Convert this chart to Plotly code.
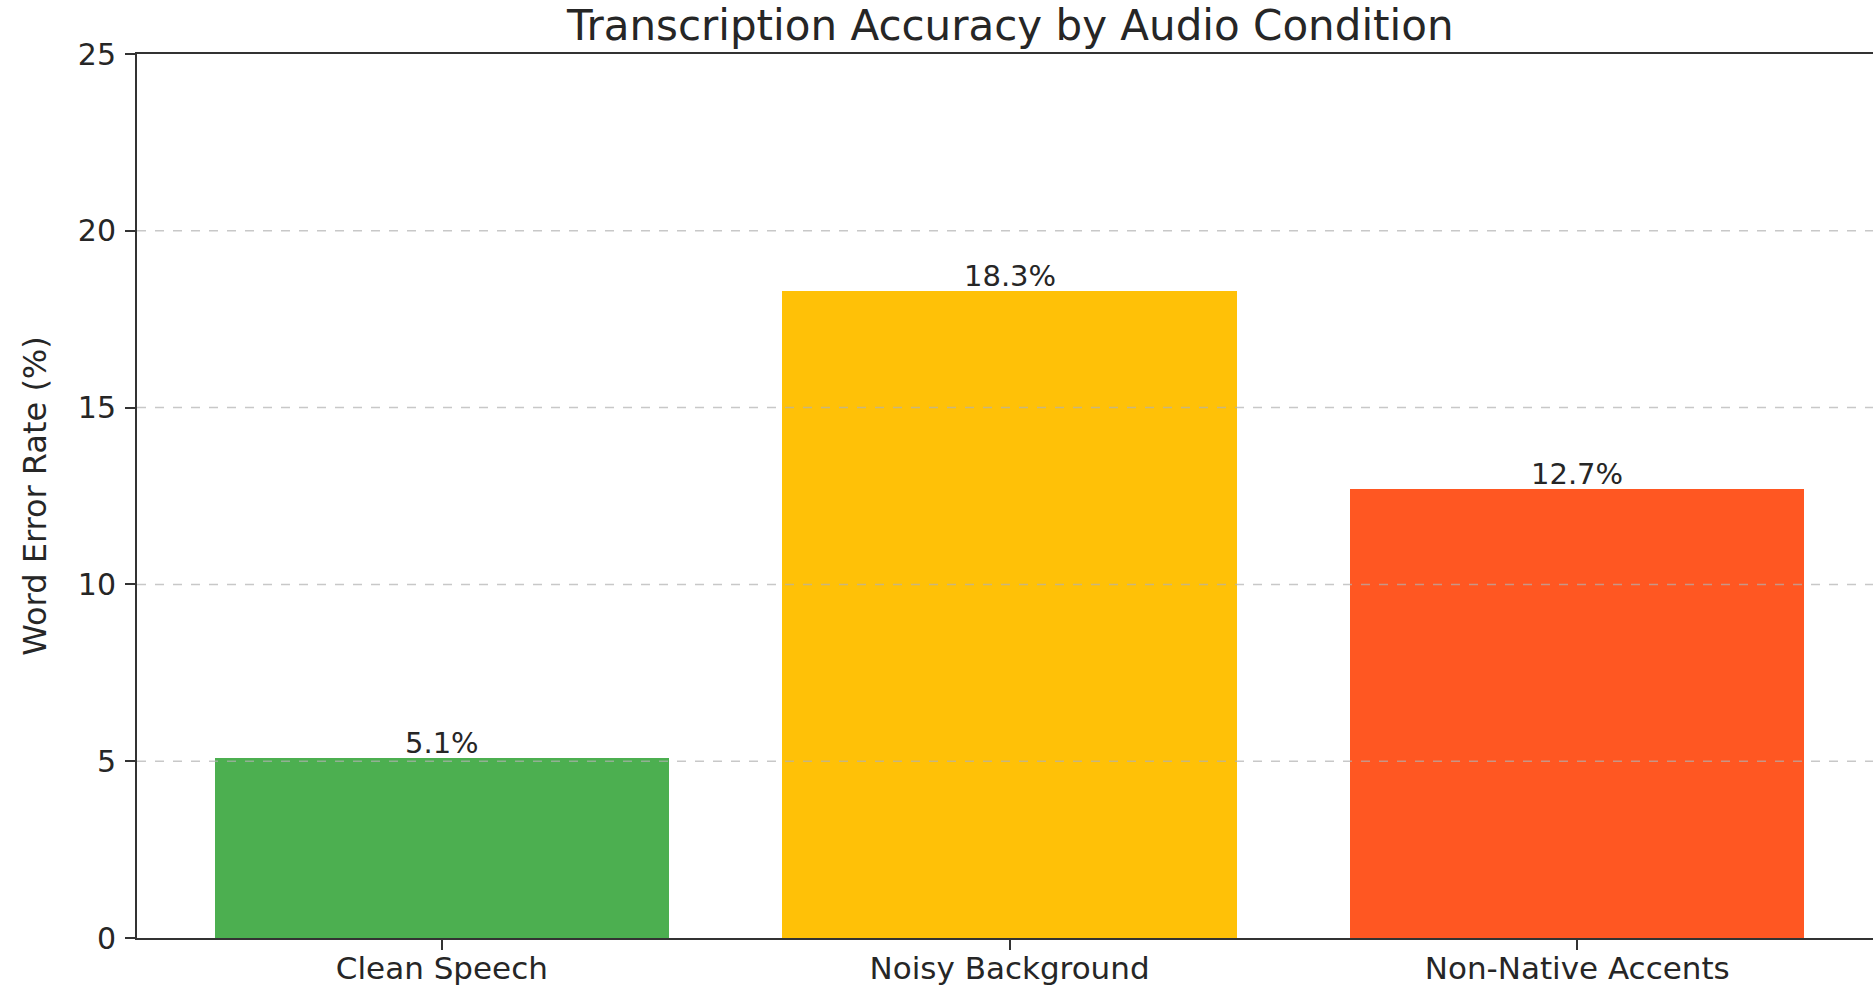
import plotly.graph_objects as go

categories = ["Clean Speech", "Noisy Background", "Non-Native Accents"]
wer_values = [5.1, 18.3, 12.7]
bar_colors = ["#4CAF50", "#FFC107", "#FF5722"]
bar_labels = [f"{v:.1f}%" for v in wer_values]
y_ticks = [0, 5, 10, 15, 20, 25]
grid_values = [5, 10, 15, 20]

FONT = "DejaVu Sans"
TXT = "#262626"

x_pos = list(range(len(categories)))

fig = go.Figure()
fig.add_trace(go.Bar(
    x=x_pos,
    y=wer_values,
    width=0.8,
    marker=dict(color=bar_colors, line=dict(width=0)),
    showlegend=False,
    hoverinfo="skip",
))

for xi, v, lab in zip(x_pos, wer_values, bar_labels):
    fig.add_annotation(x=xi, y=v, xref="x", yref="y", text=lab, showarrow=False,
                       yanchor="bottom", xanchor="center", yshift=-4,
                       font=dict(family=FONT, size=29, color=TXT))

shapes = []
for g in grid_values:
    shapes.append(dict(type="line", xref="paper", x0=0, x1=1, yref="y", y0=g, y1=g,
                       line=dict(color="rgba(176,176,176,0.7)", width=1.5, dash="dash"),
                       layer="above"))

fig.update_layout(
    width=1873, height=986,
    margin=dict(l=137, r=0, t=54, b=48),
    paper_bgcolor="white", plot_bgcolor="white",
    font=dict(family=FONT, color=TXT),
    title=dict(text="Transcription Accuracy by Audio Condition", x=0.503, xanchor="center",
               xref="paper", y=1 - 25 / 986, yanchor="middle", yref="container",
               font=dict(family=FONT, size=42, color=TXT)),
    xaxis=dict(range=[-0.537, 2.521], tickmode="array", tickvals=x_pos,
               ticktext=categories, showgrid=False, zeroline=False, automargin=False,
               showline=True, linecolor="#333333", linewidth=2, mirror=True,
               ticks="outside", ticklen=10, tickwidth=2, tickcolor="#333333",
               ticklabelstandoff=-8,
               tickfont=dict(family=FONT, size=31, color=TXT)),
    yaxis=dict(range=[0, 25], tickmode="array", tickvals=y_ticks, showgrid=False,
               zeroline=False, automargin=False, showline=True, linecolor="#333333", linewidth=2,
               ticks="outside", ticklen=10, tickwidth=2, tickcolor="#333333",
               ticklabelstandoff=3,
               tickfont=dict(family=FONT, size=30, color=TXT),
               title=dict(text="Word Error Rate (%)", standoff=22,
                          font=dict(family=FONT, size=32, color=TXT))),
    shapes=shapes,
    bargap=0,
)

fig.write_html("out.html",
               config={"displayModeBar": False},
               post_script="document.body.style.margin='0';document.body.style.overflow='hidden';")
